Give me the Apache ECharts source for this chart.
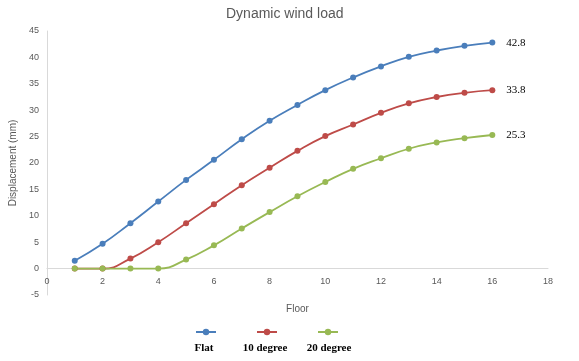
<!DOCTYPE html>
<html><head><meta charset="utf-8">
<script src="https://cdn.jsdelivr.net/npm/echarts@6/dist/echarts.min.js"></script>
<style>html,body{margin:0;padding:0;background:#fff}#c{width:579px;height:361px}</style>
</head><body><div id="c"></div>
<script>
const floors = [1,2,3,4,5,6,7,8,9,10,11,12,13,14,15,16];
const seriesNames = ['Flat','10 degree','20 degree'];
const flat = [1.5,4.7,8.6,12.7,16.8,20.6,24.5,28.0,31.0,33.8,36.2,38.3,40.1,41.3,42.2,42.8];
const deg10 = [0,0,1.9,5.0,8.6,12.2,15.8,19.1,22.3,25.1,27.3,29.5,31.3,32.5,33.3,33.8];
const deg20 = [0,0,0,0,1.7,4.4,7.6,10.7,13.7,16.4,18.9,20.9,22.7,23.9,24.7,25.3];
const colors = ['#4a7ebb','#be4b48','#98b954'];
const allData = [flat, deg10, deg20];

const chart = echarts.init(document.getElementById('c'));
const legendLefts = [190, 251, 312];
const textCenters = [204, 265, 329];
chart.setOption({
  animation:false,
  title:{text:'Dynamic wind load', left:221, top:2,
    textStyle:{fontFamily:'Liberation Sans', fontSize:14, fontWeight:'normal', color:'#595959'}},
  grid:{left:41, right:31, top:31, bottom:66},
  xAxis:{type:'value', min:0, max:18, interval:2,
    name:'Floor', nameLocation:'middle', nameGap:36, offset:-26.4,
    nameTextStyle:{fontFamily:'Liberation Sans', fontSize:10, color:'#595959'},
    axisLine:{onZero:false, lineStyle:{color:'#d9d9d9'}},
    axisTick:{show:false}, splitLine:{show:false},
    axisLabel:{fontFamily:'Liberation Sans', fontSize:9, color:'#595959', margin:8}},
  yAxis:{type:'value', min:-5, max:45, interval:5,
    name:'Displacement (mm)', nameLocation:'middle', nameGap:24,
    nameTextStyle:{fontFamily:'Liberation Sans', fontSize:10, color:'#595959'},
    axisLine:{show:true, lineStyle:{color:'#d9d9d9'}},
    axisTick:{show:false}, splitLine:{show:false},
    axisLabel:{fontFamily:'Liberation Sans', fontSize:9, color:'#595959', margin:8}},
  legend: seriesNames.map((n,i)=>({data:[n], left:legendLefts[i], top:323, itemWidth:20, itemHeight:8,
    formatter:()=>'', selectedMode:false})),
  graphic: seriesNames.map((n,i)=>({type:'text', x:textCenters[i], y:343,
    style:{text:n, fill:'#000', font:'bold 11px "Liberation Serif"', align:'center', verticalAlign:'top'}})),
  series: seriesNames.map((n,i)=>({
    name:n, type:'line', smooth:true, symbol:'circle', symbolSize:6,
    data: floors.map((f,k)=>[f, allData[i][k]]),
    itemStyle:{color:colors[i]}, lineStyle:{color:colors[i], width:1.8},
    endLabel:{show:true, distance:14, formatter:p=>String(p.value[1]),
      fontFamily:'Liberation Serif', fontSize:11, color:'#000'}
  }))
});
</script></body></html>
